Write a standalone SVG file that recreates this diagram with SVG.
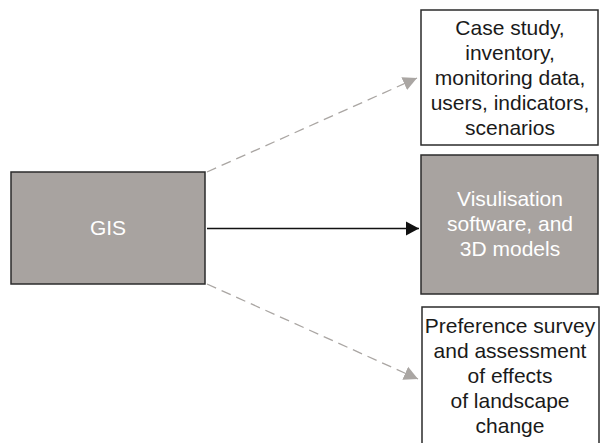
<svg xmlns="http://www.w3.org/2000/svg" width="602" height="443" viewBox="0 0 602 443">
<style>
.box{stroke:#2b2b2b;stroke-width:1.5}
.white{fill:#ffffff}
.grey{fill:#a8a3a0}
.t{font-family:"Liberation Sans",Arial,sans-serif;font-size:21px;text-anchor:middle}
.dark{fill:#1a1a1a}
.light{fill:#ffffff}
.dash{stroke:#aaa6a3;stroke-width:1.3;stroke-dasharray:10,6;fill:none}
.solid{stroke:#111;stroke-width:1.5;fill:none}
</style>
<defs>
<marker id="ag" markerUnits="userSpaceOnUse" markerWidth="16" markerHeight="16" refX="14" refY="7" orient="auto" viewBox="0 0 16 14">
<path d="M0,0 L14,7 L0,14 Z" fill="#aaa6a3"/>
</marker>
<marker id="ab" markerUnits="userSpaceOnUse" markerWidth="16" markerHeight="16" refX="13" refY="7" orient="auto" viewBox="0 0 16 14">
<path d="M0,0 L13,7 L0,14 Z" fill="#111"/>
</marker>
</defs>
<g id="connectors">
<line class="dash" x1="207" y1="172" x2="417" y2="78" marker-end="url(#ag)"/>
<line class="solid" x1="207" y1="228.5" x2="419" y2="228.5" marker-end="url(#ab)"/>
<line class="dash" x1="207" y1="284" x2="418" y2="379" marker-end="url(#ag)"/>
</g>
<g id="gis">
<rect class="box grey" x="11" y="172" width="194" height="112"/>
<text class="t light" x="108" y="235">GIS</text>
</g>
<g id="data">
<rect class="box white" x="421" y="10" width="177" height="135"/>
<text class="t dark" x="510" y="35">Case study,</text>
<text class="t dark" x="510" y="60">inventory,</text>
<text class="t dark" x="510" y="85">monitoring data,</text>
<text class="t dark" x="510" y="110">users, indicators,</text>
<text class="t dark" x="510" y="135">scenarios</text>
</g>
<g id="visualisation">
<rect class="box grey" x="421" y="155" width="177" height="139"/>
<text class="t light" x="510" y="206">Visulisation</text>
<text class="t light" x="510" y="231">software, and</text>
<text class="t light" x="510" y="256">3D models</text>
</g>
<g id="survey">
<rect class="box white" x="422" y="307" width="177" height="150"/>
<text class="t dark" x="510" y="333">Preference survey</text>
<text class="t dark" x="510" y="358">and assessment</text>
<text class="t dark" x="510" y="383">of effects</text>
<text class="t dark" x="510" y="408">of landscape</text>
<text class="t dark" x="510" y="433">change</text>
</g>
</svg>
